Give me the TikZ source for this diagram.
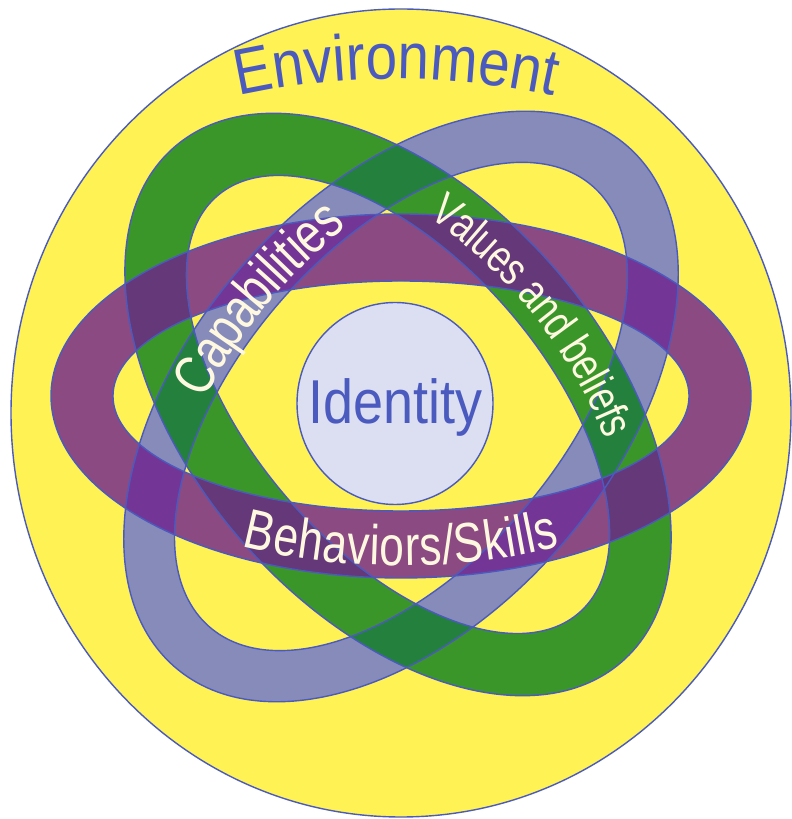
\documentclass[tikz,border=0pt]{standalone}
\usepackage{fontspec}
\setmainfont{Liberation Sans}
\newfontfamily\narrowfont[FakeStretch=0.87]{Liberation Sans}
\newfontfamily\narrowerfont[FakeStretch=0.79]{Liberation Sans}
\usetikzlibrary{decorations.text}
\definecolor{olin}{RGB}{75,90,190}
\definecolor{yel}{RGB}{255,242,85}
\definecolor{pur}{RGB}{111,33,142}
\definecolor{grn}{RGB}{11,127,30}
\definecolor{blu}{RGB}{105,114,211}
\definecolor{idf}{RGB}{220,222,242}
\definecolor{txt}{RGB}{255,248,225}
\newcommand{\envfont}{\narrowfont\fontsize{65}{65}\selectfont}
\newcommand{\capfont}{\narrowerfont\fontsize{57}{57}\selectfont}
\newcommand{\valfont}{\narrowerfont\fontsize{46}{46}\selectfont}
\newcommand{\behfont}{\narrowerfont\fontsize{56}{56}\selectfont}
\begin{document}
\begin{tikzpicture}[x=1pt,y=1pt,
  ring/.style={fill opacity=0.8, even odd rule},
  edge/.style={draw=olin, line width=1.4pt}]
\useasboundingbox (0,0) rectangle (792,819);
% environment disc
\coordinate (E0) at (401,406);
\fill[yel] (E0) ellipse [x radius=390, y radius=404];
\draw[edge] (E0) ellipse [x radius=390, y radius=404];
% centres
\coordinate (B0) at (401,412.5);
\coordinate (G0) at (398,414.5);
\coordinate (P0) at (401,423);
% fills
\begin{scope}[rotate around={49:(B0)}]
  \fill[blu, ring] (B0) ellipse [x radius=345, y radius=212]
                   (B0) ellipse [x radius=292, y radius=160];
\end{scope}
\begin{scope}[rotate around={-49:(G0)}]
  \fill[grn, ring] (G0) ellipse [x radius=341, y radius=207.5]
                   (G0) ellipse [x radius=276, y radius=145];
\end{scope}
\fill[pur, ring] (P0) ellipse [x radius=350, y radius=182]
                 (P0) ellipse [x radius=288, y radius=115];
% outlines
\begin{scope}[rotate around={49:(B0)}]
  \draw[edge] (B0) ellipse [x radius=345, y radius=212]
              (B0) ellipse [x radius=292, y radius=160];
\end{scope}
\begin{scope}[rotate around={-49:(G0)}]
  \draw[edge] (G0) ellipse [x radius=341, y radius=207.5]
              (G0) ellipse [x radius=276, y radius=145];
\end{scope}
\draw[edge] (P0) ellipse [x radius=350, y radius=182]
            (P0) ellipse [x radius=288, y radius=115];
% identity
\coordinate (I0) at (395,415.5);
\draw[edge, fill=idf] (I0) ellipse [x radius=98, y radius=101];
\node[anchor=base, text=olin, inner sep=0pt, font=\narrowfont\fontsize{62}{62}\selectfont] (idtext) at (395.5,395) {Identity};
% Environment label
\coordinate (envc) at (396,8);
\coordinate (envs) at ({396+732*cos(104)},{8+732*sin(104)});
\path[decorate, decoration={text along path, text={|\envfont|Environment}, text align=center, text color=olin}]
  (envs) arc [start angle=104, end angle=76, radius=732];
% Capabilities on blue ring
\begin{scope}[rotate around={49:(B0)}]
  \coordinate (caps) at ({401+318.5*cos(150)},{412.5+186*sin(150)});
  \path[decorate, decoration={text along path, text={|\capfont|Capabilities}, text align=center, text color=txt, raise=-18}]
    (caps) arc [start angle=150, end angle=36, x radius=318.5, y radius=186];
\end{scope}
% Values and beliefs on green ring
\begin{scope}[rotate around={-49:(G0)}]
  \coordinate (vals) at ({398+308.5*cos(146)},{414.5+176*sin(146)});
  \path[decorate, decoration={text along path, text={|\valfont|Values and beliefs}, text align=center, text color=txt, raise=-15}]
    (vals) arc [start angle=146, end angle=22, x radius=308.5, y radius=176];
\end{scope}
% Behaviors/Skills on purple ring
\coordinate (behs) at ({401+319*cos(215)},{423+148.5*sin(215)});
\path[decorate, decoration={text along path, text={|\behfont|Behaviors/Skills}, text align=center, text color=txt, raise=-21}]
  (behs) arc [start angle=215, end angle=325, x radius=319, y radius=148.5];
\end{tikzpicture}
\end{document}
